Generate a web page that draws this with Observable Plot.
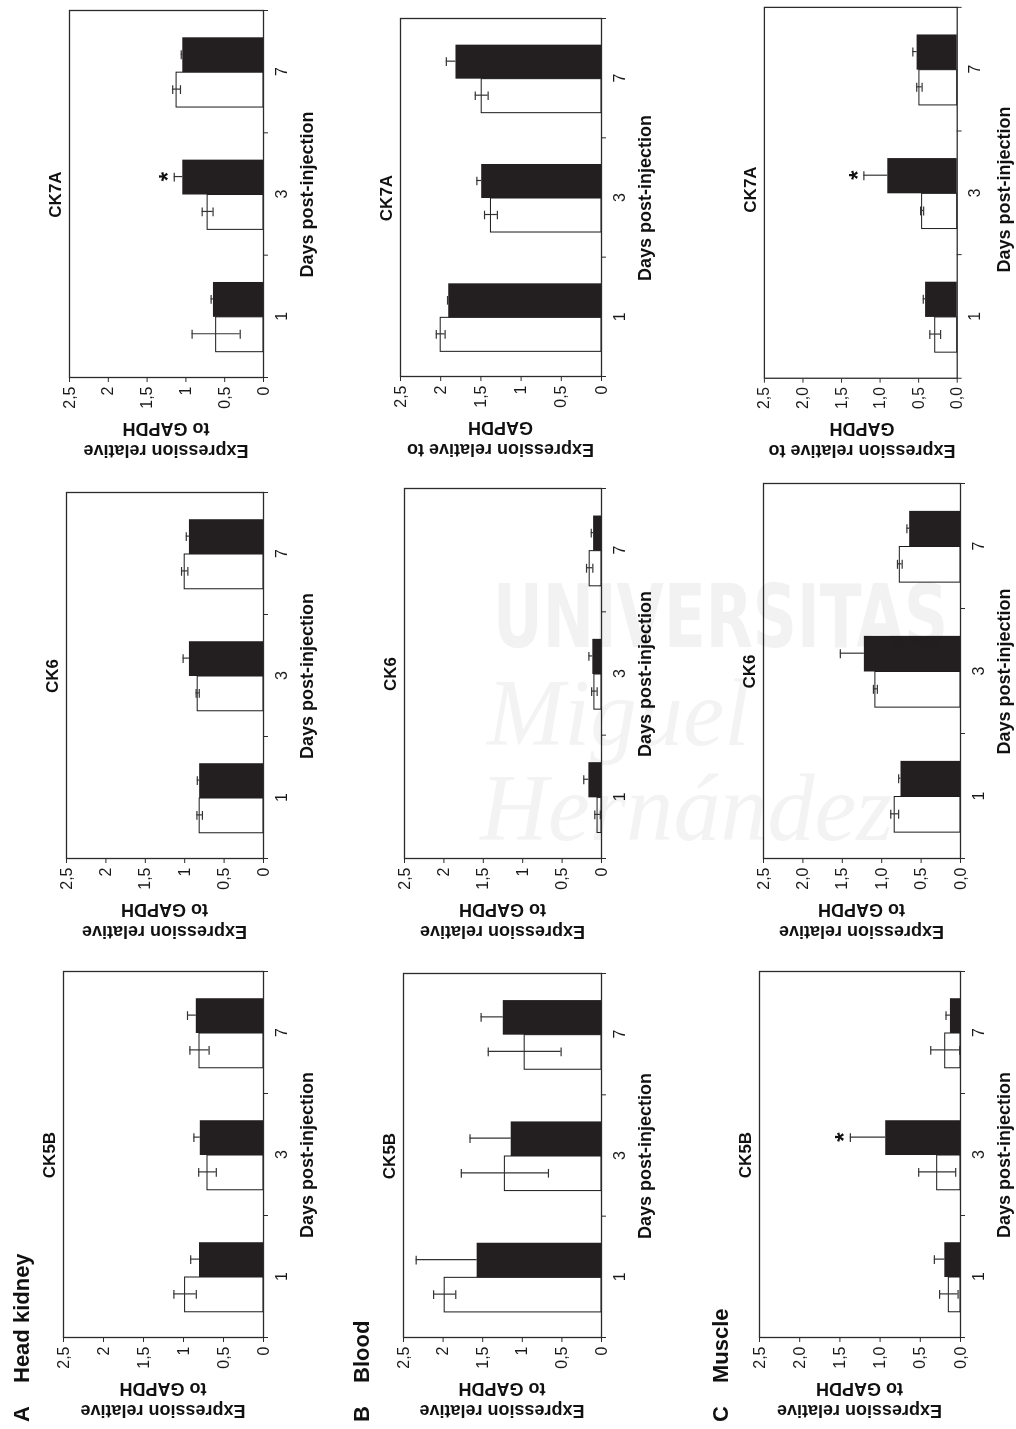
<!DOCTYPE html>
<html>
<head>
<meta charset="utf-8">
<script src="https://cdn.jsdelivr.net/npm/d3@7"></script>
<script src="https://cdn.jsdelivr.net/npm/@observablehq/plot@0.6"></script>
<style>
html, body { margin: 0; padding: 0; background: #fff; width: 1016px; height: 1429px; overflow: hidden; }
#fig { position: absolute; left: 0; top: 0; width: 1429px; height: 1016px;
       transform-origin: 0 0; transform: translate(0px, 1429px) rotate(-90deg); }
#wm { position: absolute; left: 0; top: 0; width: 1016px; height: 1429px; pointer-events: none; mix-blend-mode: multiply; }
</style>
</head>
<body>
<div id="fig"></div>
<svg id="wm" width="1016" height="1429"></svg>
<script>
// ---------------- DATA ----------------
const days = ["1", "3", "7"];
const genes = ["CK5B", "CK6", "CK7A"];
const tissues = ["Head kidney", "Blood", "Muscle"];
const tissueLetters = ["A", "B", "C"];
const yTicks = [0, 0.5, 1, 1.5, 2, 2.5];
const yTickLabelsAB = ["0", "0,5", "1", "1,5", "2", "2,5"];
const yTickLabelsC = ["0,0", "0,5", "1,0", "1,5", "2,0", "2,5"];

// values per gene (CK5B, CK6, CK7A), per day (1, 3, 7)
const headKidneyControl    = [[0.98, 0.70, 0.80], [0.81, 0.835, 1.00], [0.61, 0.72, 1.12]];
const headKidneyControlErr = [[0.14, 0.11, 0.12], [0.035, 0.02, 0.04], [0.31, 0.07, 0.05]];
const headKidneyTreated    = [[0.80, 0.79, 0.84], [0.81, 0.94, 0.94], [0.645, 1.04, 1.04]];
const headKidneyTreatedErr = [[0.11, 0.08, 0.11], [0.03, 0.08, 0.04], [0.03, 0.11, 0.02]];

const bloodControl    = [[1.98, 1.22, 0.97], [0.05, 0.09, 0.15], [2.00, 1.375, 1.49]];
const bloodControlErr = [[0.14, 0.55, 0.46], [0.035, 0.035, 0.04], [0.055, 0.08, 0.08]];
const bloodTreated    = [[1.57, 1.14, 1.24], [0.16, 0.11, 0.10], [1.90, 1.49, 1.81]];
const bloodTreatedErr = [[0.77, 0.52, 0.28], [0.065, 0.05, 0.03], [0.015, 0.06, 0.12]];

const muscleControl    = [[0.145, 0.29, 0.19], [0.835, 1.08, 0.77], [0.285, 0.455, 0.49]];
const muscleControlErr = [[0.115, 0.23, 0.18], [0.05, 0.025, 0.03], [0.07, 0.02, 0.035]];
const muscleTreated    = [[0.195, 0.93, 0.125], [0.755, 1.22, 0.645], [0.41, 0.90, 0.52]];
const muscleTreatedErr = [[0.13, 0.44, 0.055], [0.03, 0.305, 0.035], [0.03, 0.31, 0.055]];

// significant differences (tissue, gene, day)
const significant = [["Head kidney", "CK7A", "3"], ["Muscle", "CK5B", "3"], ["Muscle", "CK7A", "3"]];

// y-axis label line split per tissue / gene
const yLabelLines = [
  [["Expression relative", "to GAPDH"], ["Expression relative", "to GAPDH"], ["Expression relative", "to GAPDH"]],
  [["Expression relative", "to GAPDH"], ["Expression relative", "to GAPDH"], ["Expression relative to", "GAPDH"]],
  [["Expression relative", "to GAPDH"], ["Expression relative", "to GAPDH"], ["Expression relative to", "GAPDH"]]
];

// ---------------- LAYOUT (landscape figure coordinates) ----------------
// plot area per tissue/gene: [left, right, top(2.5), bottom(0)]
const boxes = [
  [[91, 457, 63, 263], [570, 936, 66, 263], [1051, 1418, 69, 263]],
  [[91, 455, 403, 601], [570, 940, 404, 601], [1052, 1410, 400, 601]],
  [[91, 457, 759, 960], [570, 945, 763, 960], [1051, 1428, 764, 960]]
];
const headingBaselines = [29, 369, 728];
const FONT = '"Liberation Sans", Arial, Helvetica, sans-serif';
const BAR = 0.285;   // bar width in category units
const CAP = 0.036;   // half cap width in category units
const BLACK = "#231f20";

const series = [
  [headKidneyControl, headKidneyControlErr, headKidneyTreated, headKidneyTreatedErr],
  [bloodControl, bloodControlErr, bloodTreated, bloodTreatedErr],
  [muscleControl, muscleControlErr, muscleTreated, muscleTreatedErr]
];

const fig = document.getElementById("fig");
const overlay = d3.select(fig).append("svg")
  .attr("width", 1429).attr("height", 1016)
  .style("position", "absolute").style("left", "0px").style("top", "0px")
  .style("font-family", FONT).attr("fill", "#111");

// headings
tissues.forEach((t, ti) => {
  overlay.append("text").attr("x", 7).attr("y", headingBaselines[ti])
    .attr("font-size", 22).attr("font-weight", "bold").text(tissueLetters[ti]);
  overlay.append("text").attr("x", 46).attr("y", headingBaselines[ti])
    .attr("font-size", 22).attr("font-weight", "bold").text(t);
});

tissues.forEach((t, ti) => {
  genes.forEach((g, gi) => {
    const [u0, u1, vt, vz] = boxes[ti][gi];
    const uc = (u0 + u1) / 2, vc = (vt + vz) / 2;
    // title
    overlay.append("text").attr("x", uc).attr("y", vt - 8).attr("text-anchor", "middle")
      .attr("font-size", 17).attr("font-weight", "bold").text(g);
    // x title
    overlay.append("text").attr("x", uc).attr("y", vz + 50).attr("text-anchor", "middle")
      .attr("font-size", 18).attr("font-weight", "bold").text("Days post-injection");
    // y title (two lines)
    const lines = yLabelLines[ti][gi];
    [[lines[0], u0 - 67], [lines[1], u0 - 45]].forEach(([txt, u]) => {
      overlay.append("text").attr("transform", `translate(${u},${vc}) rotate(-90)`)
        .attr("text-anchor", "middle").attr("font-size", 18).attr("font-weight", "bold").text(txt);
    });

    // data rows
    const [cm, ce, tm, te] = series[ti].map(s => s[gi]);
    const rows = days.map((d, i) => ({i, day: d, c: cm[i], ce: ce[i], k: tm[i], ke: te[i],
      sig: significant.some(s => s[0] === t && s[1] === g && s[2] === d)}));
    const caps = rows.flatMap(r => [
      {x: r.i - BAR / 2, y: r.c - r.ce}, {x: r.i - BAR / 2, y: r.c + r.ce},
      {x: r.i + BAR / 2, y: r.k + r.ke}
    ]);
    const labels = ti === 2 ? yTickLabelsC : yTickLabelsAB;

    const mL = 46, mR = 8, mT = 6, mB = 34;
    const W = u1 - u0 + mL + mR, H = vz - vt + mT + mB;
    const chart = Plot.plot({
      width: W, height: H, marginLeft: mL, marginRight: mR, marginTop: mT, marginBottom: mB,
      style: {fontFamily: FONT, fontSize: "16px", color: "#1a1a1a", background: "transparent", overflow: "visible"},
      x: {domain: [-0.5, 2.5], axis: null},
      y: {domain: [0, 2.5], axis: null},
      marks: [
        Plot.rect(rows, {x1: d => d.i - BAR, x2: d => d.i, y1: () => 0, y2: "c", fill: "white", stroke: "#1a1a1a", strokeWidth: 1, inset: 0}),
        Plot.rect(rows, {x1: d => d.i, x2: d => d.i + BAR, y1: () => 0, y2: "k", fill: BLACK, inset: 0}),
        Plot.ruleX(rows, {x: d => d.i - BAR / 2, y1: d => d.c - d.ce, y2: d => d.c + d.ce, stroke: "#333", strokeWidth: 1.2}),
        Plot.ruleX(rows, {x: d => d.i + BAR / 2, y1: d => d.k, y2: d => d.k + d.ke, stroke: "#333", strokeWidth: 1.2}),
        Plot.ruleY(caps, {y: "y", x1: d => d.x - CAP, x2: d => d.x + CAP, stroke: "#333", strokeWidth: 1.2}),
        Plot.frame({stroke: "#2b2b2b", strokeWidth: 1.3}),
        Plot.axisY({ticks: yTicks, tickFormat: d => labels[yTicks.indexOf(d)], tickSize: 4, tickPadding: 5, label: null, stroke: "#2b2b2b"}),
        Plot.axisX({ticks: [-0.5, 0.5, 1.5, 2.5], tickFormat: () => "", tickSize: 5, label: null, stroke: "#2b2b2b"}),
        Plot.axisX({ticks: [0, 1, 2], tickFormat: d => days[d], tickSize: 0, tickPadding: 12, label: null}),
        Plot.text(rows.filter(r => r.sig), {x: d => d.i + BAR / 2, y: d => d.k + d.ke, text: () => "*",
          fontSize: 24, fontWeight: "bold", dy: -6, fill: "#111"})
      ]
    });
    const holder = document.createElement("div");
    holder.style.position = "absolute";
    holder.style.left = (u0 - mL) + "px";
    holder.style.top = (vt - mT) + "px";
    holder.appendChild(chart);
    fig.appendChild(holder);
  });
});

// faint repository watermark (upright on the page)
const wm = d3.select("#wm");
wm.append("text").attr("x", 493).attr("y", 647).attr("font-family", '"DejaVu Sans", sans-serif')
  .attr("font-weight", "bold").attr("font-size", 88).attr("textLength", 455).attr("lengthAdjust", "spacingAndGlyphs")
  .attr("fill", "#f2f2f2").text("UNIVERSITAS");
wm.append("text").attr("x", 487).attr("y", 745).attr("font-family", '"Liberation Serif", serif')
  .attr("font-style", "italic").attr("font-size", 95).attr("textLength", 263).attr("lengthAdjust", "spacingAndGlyphs")
  .attr("fill", "#f3f3f3").text("Miguel");
wm.append("text").attr("x", 480).attr("y", 840).attr("font-family", '"Liberation Serif", serif')
  .attr("font-style", "italic").attr("font-size", 95).attr("textLength", 413).attr("lengthAdjust", "spacingAndGlyphs")
  .attr("fill", "#f3f3f3").text("Hernández");
</script>
</body>
</html>
